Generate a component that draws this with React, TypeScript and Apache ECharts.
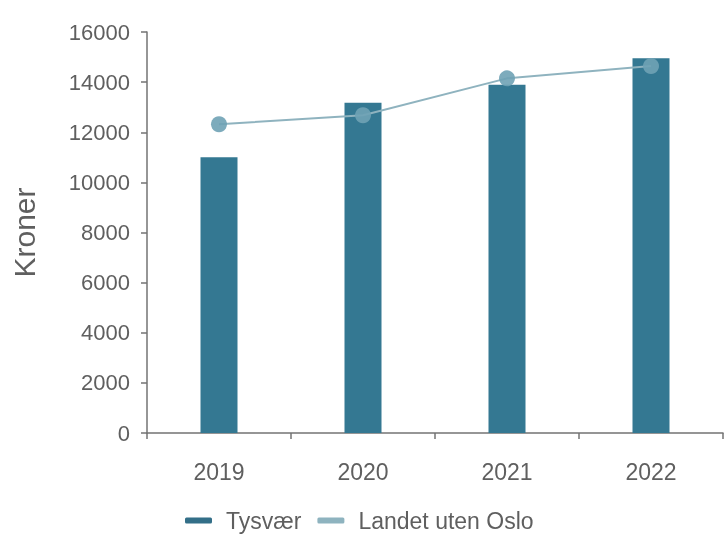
import React, { useEffect, useRef } from "react";
import * as echarts from "echarts";

const categories = ["2019", "2020", "2021", "2022"];
const tysvaer = [11000, 13180, 13900, 14950];
const landetUtenOslo = [12320, 12680, 14150, 14640];
const yTicks = { min: 0, max: 16000, interval: 2000 };

const FONT = "Liberation Sans";
const TEXT = "#5f5f5f";
const AXIS = "#737373";

export default function App() {
  const ref = useRef<HTMLDivElement>(null);
  useEffect(() => {
    if (!ref.current) return;
    const chart = echarts.init(ref.current, undefined, { renderer: "svg" });
    chart.setOption({
      animation: false,
      textStyle: { fontFamily: FONT },
      grid: { left: 147, right: 3, top: 32, bottom: 101, containLabel: false },
      legend: {
        left: 180,
        top: 504,
        itemWidth: 27,
        itemHeight: 6,
        itemGap: 16,
        icon: "roundRect",
        textStyle: {
          fontSize: 23,
          color: TEXT,
          fontFamily: FONT,
          padding: [0, 0, 0, 9],
        },
        data: [
          { name: "Tysvær", itemStyle: { color: "#336f88" } },
          { name: "Landet uten Oslo", itemStyle: { color: "#82abb8" } },
        ],
      },
      xAxis: {
        type: "category",
        data: categories,
        axisLine: { show: true, lineStyle: { color: AXIS, width: 1.5 } },
        axisTick: { show: true, length: 6, lineStyle: { color: AXIS, width: 1.5 } },
        axisLabel: { fontSize: 23, color: TEXT, margin: 27, fontFamily: FONT },
        splitLine: { show: false },
      },
      yAxis: {
        type: "value",
        min: yTicks.min,
        max: yTicks.max,
        interval: yTicks.interval,
        name: "Kroner",
        nameLocation: "middle",
        nameGap: 108,
        nameTextStyle: { fontSize: 30, color: TEXT, fontFamily: FONT },
        axisLine: { show: true, lineStyle: { color: AXIS, width: 1.5 } },
        axisTick: { show: true, length: 6, lineStyle: { color: AXIS, width: 1.5 } },
        axisLabel: {
          fontSize: 22,
          color: TEXT,
          margin: 17,
          fontFamily: FONT,
          formatter: (v: number) => String(v),
        },
        splitLine: { show: false },
      },
      series: [
        {
          name: "Tysvær",
          type: "bar",
          data: tysvaer,
          barWidth: 37,
          itemStyle: { color: "#347892" },
        },
        {
          name: "Landet uten Oslo",
          type: "line",
          data: landetUtenOslo,
          symbol: "circle",
          symbolSize: 16,
          lineStyle: { color: "#8fb3bf", width: 2 },
          itemStyle: { color: "#6fa2b5", opacity: 0.9 },
        },
      ],
    });
    return () => chart.dispose();
  }, []);
  return (
    <div
      ref={ref}
      style={{ position: "fixed", left: 0, top: 0, width: 726, height: 534 }}
    />
  );
}
